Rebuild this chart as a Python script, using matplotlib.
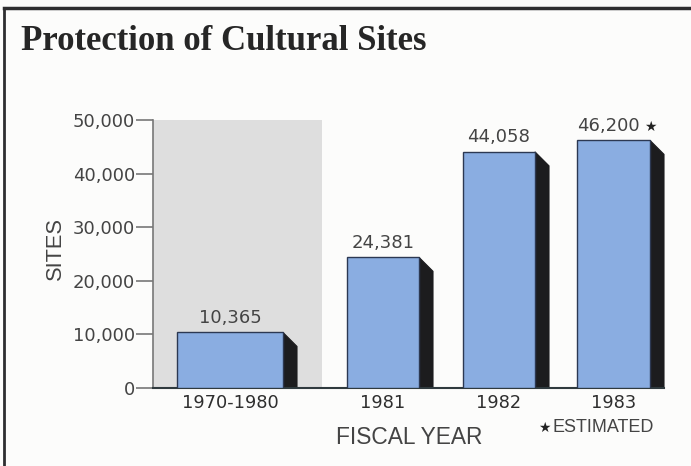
import matplotlib
matplotlib.use("Agg")
import matplotlib.pyplot as plt
from matplotlib.patches import Polygon, Rectangle

# Data
fiscal_years = ["1970-1980", "1981", "1982", "1983"]
sites = [10365, 24381, 44058, 46200]
estimated = [False, False, False, True]
y_ticks = [0, 10000, 20000, 30000, 40000, 50000]

# Layout (x in axis units, roughly pixels from the y axis)
bar_centers = [77, 230, 346, 460.5]
bar_widths = [106, 72, 72, 73]
period_shade_right = 169
shadow_dx = 14
W, H = 691, 466

fig = plt.figure(figsize=(W / 100, H / 100), dpi=100)
fig.patch.set_facecolor("#fcfcfb")

ax = fig.add_axes([153 / W, (H - 388) / H, (680 - 153) / W, (388 - 120) / H])
ax.set_facecolor("none")
ax.set_xlim(0, 680 - 153)
ax.set_ylim(0, 50000)
px_to_y = 50000 / (388 - 120)
shadow_dy = shadow_dx * px_to_y

num_font = "DejaVu Sans"
word_font = "Liberation Sans"
text_col = "#444444"

# shaded band behind the cumulative period
ax.add_patch(Rectangle((0, 0), period_shade_right, 50000, facecolor="#dedede",
                       edgecolor="none", zorder=0))

for c, w, v, est in zip(bar_centers, bar_widths, sites, estimated):
    left, right = c - w / 2, c + w / 2
    shadow = Polygon([(right, v), (right + shadow_dx, v - shadow_dy),
                      (right + shadow_dx, 0), (right, 0)],
                     closed=True, facecolor="#1c1c1e", edgecolor="#1c1c1e",
                     lw=0.8, zorder=2)
    ax.add_patch(shadow)
    ax.bar(c, v, width=w, color="#8aade1", edgecolor="#2c3852", linewidth=1.0,
           zorder=3)
    t = ax.annotate(f"{v:,}", xy=(c - (5 if est else 0), v), xytext=(0, 4),
                    textcoords="offset points", ha="center", va="bottom",
                    fontsize=13, family=num_font, color=text_col)
    if est:
        ax.annotate("★", xy=(1, 0.05), xycoords=t, xytext=(3, 0),
                    textcoords="offset points", ha="left", va="bottom",
                    fontsize=10, family=num_font, color="#222222")

# axes styling
for s in ["top", "right"]:
    ax.spines[s].set_visible(False)
ax.spines["left"].set_color("#777777")
ax.spines["left"].set_linewidth(1.2)
ax.spines["bottom"].set_color("#2f3a3e")
ax.spines["bottom"].set_linewidth(1.5)
ax.spines["bottom"].set_bounds(0, bar_centers[-1] + bar_widths[-1] / 2 + shadow_dx)

ax.set_yticks(y_ticks)
ax.set_yticklabels([f"{t:,}" for t in y_ticks], family=num_font, fontsize=13,
                   color=text_col)
ax.tick_params(axis="y", length=12, width=1.2, color="#777777", pad=1)
ax.set_xticks(bar_centers)
ax.set_xticklabels(fiscal_years, family=num_font, fontsize=12.8, color="#2e2e2e")
ax.tick_params(axis="x", length=0, pad=4)

# titles and labels
fig.text(21 / W, 1 - 50 / H, "Protection of Cultural Sites", family="Liberation Serif",
         fontweight="bold", fontsize=25, color="#262626", ha="left", va="baseline")
fig.text(55 / W, 1 - 248 / H, "SITES", family=word_font, fontsize=15.7,
         rotation=90, ha="center", va="center", color=text_col)
fig.text(409 / W, 1 - 437 / H, "FISCAL YEAR", family=word_font, fontsize=16.4,
         ha="center", va="center", color=text_col)
fig.text(538 / W, 1 - 428 / H, "★", family=num_font, fontsize=10,
         ha="left", va="center", color="#222222")
fig.text(552 / W, 1 - 428 / H, "ESTIMATED", family=word_font, fontsize=13,
         ha="left", va="center", color=text_col)

# frame lines along the top and left edges
fig.add_artist(plt.Line2D([4 / W, 1], [1 - 8 / H, 1 - 8 / H], transform=fig.transFigure,
                          color="#2e2e30", lw=2.5))
fig.add_artist(plt.Line2D([4 / W, 4 / W], [0, 1 - 8 / H], transform=fig.transFigure,
                          color="#2e2e30", lw=2.0))

fig.savefig("out.png", dpi=100, facecolor=fig.get_facecolor())
